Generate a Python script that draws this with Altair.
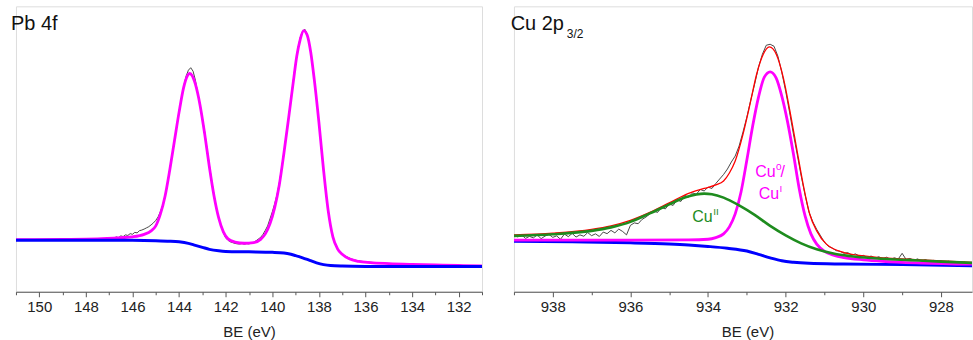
import altair as alt
import pandas as pd

FONT = "Liberation Sans"

# ---------------- Pb 4f panel (BE in eV, intensity in a.u.) ----------------
pb_measured = [
    (146.8, 53.5), (146.7, 55.0), (146.6, 54.2), (146.5, 56.0), (146.4, 55.3), (146.3, 57.0),
    (146.2, 56.4), (146.1, 58.2), (146.0, 57.6), (145.9, 59.5), (145.8, 59.0), (145.7, 61.2),
    (145.6, 61.8), (145.5, 62.8), (145.4, 64.0), (145.3, 65.2), (145.2, 67.0), (145.1, 69.0),
    (145.0, 71.5), (144.9, 75.0), (144.8, 80.5), (144.7, 87.0), (144.6, 96.0), (144.5, 108),
    (144.4, 123), (144.3, 137), (144.2, 151), (144.1, 166), (144.0, 181), (143.9, 194),
    (143.8, 206), (143.7, 216), (143.6, 222), (143.5, 224.5), (143.4, 221), (143.3, 212),
    (143.2, 199), (143.1, 188), (143.0, 174), (142.9, 160), (142.8, 143), (142.7, 127),
    (142.6, 111), (142.5, 97), (142.4, 84), (142.3, 74), (142.2, 66), (142.1, 59),
    (142.0, 54), (141.9, 51.5), (141.8, 50), (141.7, 49.2), (141.6, 48.4), (141.5, 48.0),
    (141.4, 47.8), (141.3, 48.3), (141.2, 47.6), (141.1, 48.2), (141.0, 47.9), (140.9, 49.0),
    (140.8, 49.5), (140.7, 51.0), (140.6, 52.8), (140.5, 54.5), (140.4, 57.5), (140.3, 61.5),
    (140.2, 66.0), (140.1, 73.0), (140.0, 80.0), (139.9, 88.0), (139.8, 97.0), (139.7, 109),
    (139.6, 124), (139.5, 140), (139.4, 157), (139.3, 175), (139.2, 193), (139.1, 212),
    (139.0, 229), (138.9, 244), (138.8, 255), (138.7, 261), (138.6, 263), (138.5, 258),
    (138.4, 247), (138.3, 232), (138.2, 214), (138.1, 192), (138.0, 170), (137.9, 146),
    (137.8, 122), (137.7, 100), (137.6, 81), (137.5, 66), (137.4, 55), (137.3, 48),
    (137.2, 43), (137.1, 40), (137.0, 37.5), (136.8, 35), (136.6, 32.8), (136.4, 31.5),
    (136.2, 30.6), (136.0, 30), (135.5, 29), (135.0, 28.4), (134.5, 27.8), (134.0, 27.3),
    (133.5, 27.0), (133.0, 26.8), (132.5, 26.5), (132.0, 26.3), (131.5, 26.1),
]

pb_fit = [
    (151.0, 52.2), (149.0, 52.5), (147.5, 53.0), (146.5, 54.2), (146.0, 55.0), (145.5, 57.5),
    (145.2, 61), (145.0, 66), (144.8, 78), (144.6, 96), (144.4, 122), (144.2, 151),
    (144.0, 180), (143.8, 205), (143.65, 216), (143.55, 218.7), (143.45, 217), (143.3, 208),
    (143.1, 187), (142.9, 158), (142.7, 125), (142.5, 96), (142.3, 74), (142.1, 60),
    (141.9, 53), (141.6, 49.8), (141.2, 48.6), (140.8, 49.3), (140.5, 52.5), (140.3, 58),
    (140.1, 68), (139.9, 84), (139.7, 107), (139.5, 139), (139.3, 174), (139.1, 210),
    (138.95, 236), (138.8, 253), (138.65, 261.7), (138.5, 257), (138.35, 240), (138.2, 213),
    (138.0, 170), (137.8, 122), (137.6, 81), (137.4, 55), (137.2, 43), (137.0, 37.5),
    (136.7, 33), (136.3, 30.5), (135.8, 29.2), (135.0, 28.2), (134.0, 27.4), (133.0, 26.8),
    (132.0, 26.3), (131.0, 26.0),
]

pb_background = [
    (151.0, 51.7), (146.0, 51.5), (145.0, 51.2), (144.5, 50.7), (144.0, 50.0), (143.6, 48.5),
    (143.3, 46.5), (143.0, 44.5), (142.7, 42.5), (142.3, 41.0), (142.0, 40.4), (141.0, 40.0),
    (140.0, 39.5), (139.5, 38.8), (139.2, 37.5), (139.0, 36.2), (138.7, 34.0), (138.4, 31.5),
    (138.1, 29.0), (137.8, 27.2), (137.5, 26.2), (137.0, 25.7), (136.0, 25.4), (134.0, 25.3),
    (131.0, 25.2),
]

# ---------------- Cu 2p3/2 panel ----------------
cu_measured = [
    (939.0, 56.5), (938.9, 55.0), (938.8, 56.8), (938.7, 53.5), (938.6, 55.5), (938.5, 54.0),
    (938.4, 56.9), (938.3, 53.2), (938.2, 55.8), (938.1, 57.5), (938.0, 54.5), (937.9, 56.0),
    (937.8, 52.6), (937.7, 57.8), (937.6, 55.2), (937.5, 58.5), (937.4, 54.8), (937.3, 57.0),
    (937.2, 55.6), (937.1, 59.3), (937.0, 56.2), (936.9, 58.0), (936.8, 55.4), (936.7, 59.8),
    (936.6, 58.2), (936.5, 61.5), (936.4, 59.0), (936.3, 62.8), (936.2, 60.4), (936.1, 57.0),
    (936.0, 66.5), (935.9, 69.0), (935.8, 68.2), (935.7, 72.5), (935.6, 74.8), (935.5, 78.0),
    (935.4, 80.8), (935.3, 79.5), (935.2, 84.5), (935.1, 83.0), (935.0, 88.0), (934.9, 86.5),
    (934.8, 92.0), (934.7, 90.5), (934.6, 96.5), (934.5, 94.8), (934.4, 99.0), (934.3, 97.8),
    (934.2, 102.5), (934.1, 101.0), (934.0, 104.8), (933.9, 103.5), (933.8, 108.5), (933.7, 113.0),
    (933.6, 117.5), (933.5, 123.0), (933.4, 130), (933.3, 136), (933.2, 146), (933.1, 160),
    (933.0, 175), (932.9, 192), (932.8, 208), (932.7, 225), (932.6, 238), (932.5, 247),
    (932.4, 248), (932.3, 246), (932.2, 236), (932.1, 220), (932.0, 201), (931.9, 180),
    (931.8, 158), (931.7, 137), (931.6, 116), (931.5, 97), (931.4, 80), (931.3, 70),
    (931.2, 62.5), (931.1, 56), (931.0, 49.5), (930.9, 45.5), (930.8, 43.8), (930.7, 41.2),
    (930.6, 40.5), (930.5, 38.6), (930.4, 39.2), (930.3, 36.8), (930.2, 37.9), (930.1, 35.6),
    (930.0, 36.5), (929.9, 34.2), (929.8, 35.8), (929.7, 33.6), (929.6, 35.1), (929.5, 33.0),
    (929.4, 34.6), (929.3, 32.4), (929.2, 34.0), (929.1, 32.8), (929.0, 38.5), (928.9, 32.5),
    (928.8, 33.4), (928.7, 31.6), (928.6, 32.9), (928.5, 30.8), (928.4, 32.2), (928.3, 30.4),
    (928.2, 31.5), (928.1, 29.8), (928.0, 31.0), (927.9, 29.2), (927.8, 30.6), (927.7, 28.5),
    (927.6, 30.2), (927.5, 27.4), (927.4, 29.8), (927.3, 28.2), (927.2, 29.5),
]

cu_envelope = [
    (939.0, 57.0), (938.0, 58.8), (937.0, 62.5), (936.5, 66), (936.0, 71.5), (935.5, 79.5),
    (935.0, 89), (934.5, 98.5), (934.1, 103.5), (933.8, 107), (933.6, 111), (933.45, 119),
    (933.3, 131), (933.1, 157.7), (932.92, 187.7), (932.75, 217.7), (932.58, 237.7),
    (932.42, 245.3), (932.24, 237.7), (932.06, 214.3), (931.89, 181), (931.72, 144.3),
    (931.55, 107.7), (931.38, 77.7), (931.2, 61), (930.95, 47.7), (930.5, 39.3),
    (929.75, 35), (928.5, 32), (927.0, 29.0),
]

cu_metal = [
    (939.0, 51.8), (936.0, 51.8), (934.5, 52.0), (934.0, 52.6), (933.8, 54.3), (933.6, 58),
    (933.45, 65), (933.3, 78), (933.15, 100), (933.0, 132), (932.85, 166), (932.7, 195),
    (932.55, 215), (932.4, 220.3), (932.25, 214.5), (932.1, 196), (931.95, 170), (931.8, 138),
    (931.65, 103), (931.5, 76), (931.35, 58), (931.2, 47.7), (931.0, 40.5), (930.75, 36.5),
    (930.5, 34.3), (930.0, 32), (929.5, 30.5), (928.5, 28.8), (927.0, 27.5),
]

cu_oxide = [
    (939.0, 56.0), (938.0, 57.6), (937.0, 61.0), (936.5, 64.5), (936.0, 70.0), (935.5, 78.5),
    (935.0, 87.5), (934.6, 94.5), (934.3, 97.5), (934.1, 98.3), (933.9, 97.7), (933.6, 94.3),
    (933.2, 86.5), (932.8, 77), (932.4, 66), (932.0, 56.5), (931.6, 48.5), (931.2, 42.5),
    (930.8, 38.5), (930.2, 35.0), (929.5, 33), (928.8, 31.7), (928.0, 30.2), (927.0, 28.6),
]

cu_background = [
    (939.0, 50.5), (937.5, 50.0), (936.0, 49.0), (935.0, 47.8), (934.5, 46.8), (934.0, 45.4),
    (933.5, 43.6), (933.0, 40.8), (932.7, 37.5), (932.4, 34), (932.1, 31), (931.8, 29.5),
    (931.4, 28.5), (930.5, 27.8), (929.0, 27.2), (927.0, 26.0),
]

# annotation labels (anchor = end of "Cu")
ann_text = ["Cu", "Cu", "Cu"]
ann_sup = ["0", "I", "II"]
ann_be = [932.26, 932.17, 933.88]
ann_v = [115, 93.3, 70.3]
ann_color = ["#FF00FF", "#FF00FF", "#1E8C1E"]

pb_title = "Pb 4f"
cu_title_main = "Cu 2p"
cu_title_sub = "3/2"

pb_domain = [151, 131]
cu_domain = [939, 927.2]
pb_ticks = list(range(131, 152))
cu_ticks = list(range(928, 940))
y_domain = [0, 286]

W_PB, W_CU, H = 467, 459, 286


def df(pairs):
    return pd.DataFrame(pairs, columns=["be", "v"])


def xenc(domain, ticks, title_x):
    axis_kwargs = dict(
        values=ticks,
        title="BE (eV)",
        labelExpr="datum.value % 2 === 0 ? datum.label : ''",
        labelOverlap=False,
        labelFlush=False,
        labelFontSize=15,
        labelColor="#222222",
        labelFont=FONT,
        labelPadding=3,
        tickSize={"condition": {"test": "datum.value % 2 === 0", "value": 5}, "value": 3},
        tickColor="#555555",
        tickWidth=1,
        domainColor="#555555",
        domainWidth=1,
        grid=False,
        titleFontSize=15,
        titleFontWeight="normal",
        titleColor="#222222",
        titleFont=FONT,
        titlePadding=10,
        titleX=title_x,
    )
    return alt.X("be:Q", scale=alt.Scale(domain=domain, nice=False, zero=False),
                 axis=alt.Axis(**axis_kwargs))


yenc = alt.Y("v:Q", scale=alt.Scale(domain=y_domain, nice=False, zero=False), axis=None)


def line(pairs, color, width, domain, ticks, title_x, interp="monotone"):
    return alt.Chart(df(pairs)).mark_line(
        color=color, strokeWidth=width, interpolate=interp, clip=True
    ).encode(x=xenc(domain, ticks, title_x), y=yenc, order="be:Q")


# ---------------- left panel ----------------
pb_t = alt.Chart(pd.DataFrame({"t": [pb_title]})).mark_text(
    align="left", baseline="alphabetic", fontSize=20, font=FONT, color="#111111"
).encode(x=alt.value(-5), y=alt.value(24), text="t:N")

left = alt.layer(
    line(pb_measured, "#333333", 0.9, pb_domain, pb_ticks, W_PB / 2, "linear"),
    line(pb_fit, "#FF00FF", 2.8, pb_domain, pb_ticks, W_PB / 2),
    line(pb_background, "#0000FF", 3.0, pb_domain, pb_ticks, W_PB / 2),
    pb_t,
).properties(width=W_PB, height=H)

# ---------------- right panel ----------------
ann_df = pd.DataFrame({"be": ann_be, "v": ann_v, "t": ann_text, "s": ann_sup, "c": ann_color})
ann_main = alt.Chart(ann_df).mark_text(
    align="right", baseline="alphabetic", fontSize=16, font=FONT
).encode(x=xenc(cu_domain, cu_ticks, 234), y=yenc, text="t:N", color=alt.Color("c:N", scale=None))
ann_super = alt.Chart(ann_df).mark_text(
    align="left", baseline="alphabetic", fontSize=10, font=FONT, dx=0.5, dy=-7
).encode(x=xenc(cu_domain, cu_ticks, 234), y=yenc, text="s:N", color=alt.Color("c:N", scale=None))
slash = alt.Chart(ann_df.iloc[[0]]).mark_text(
    align="left", baseline="alphabetic", fontSize=16, font=FONT, dx=5, text="/"
).encode(x=xenc(cu_domain, cu_ticks, 234), y=yenc, color=alt.Color("c:N", scale=None))

cu_t = alt.Chart(pd.DataFrame({"t": [cu_title_main]})).mark_text(
    align="left", baseline="alphabetic", fontSize=20, font=FONT, color="#111111"
).encode(x=alt.value(-3.3), y=alt.value(24), text="t:N")
cu_s = alt.Chart(pd.DataFrame({"t": [cu_title_sub]})).mark_text(
    align="left", baseline="alphabetic", fontSize=12, font=FONT, color="#111111"
).encode(x=alt.value(53), y=alt.value(31.5), text="t:N")

right = alt.layer(
    line(cu_measured, "#333333", 0.9, cu_domain, cu_ticks, 234, "linear"),
    line(cu_envelope, "#FF0000", 1.3, cu_domain, cu_ticks, 234),
    line(cu_background, "#0000FF", 3.0, cu_domain, cu_ticks, 234),
    line(cu_metal, "#FF00FF", 2.8, cu_domain, cu_ticks, 234),
    line(cu_oxide, "#1E8C1E", 2.6, cu_domain, cu_ticks, 234),
    ann_main, ann_super, slash, cu_t, cu_s,
).properties(width=W_CU, height=H)

chart = alt.hconcat(left, right, spacing=32, bounds="flush").properties(
    padding={"left": 10, "top": 5, "right": 0, "bottom": 0}
).configure_view(stroke=None).configure(font=FONT)

chart.save("out.html", embed_options={"renderer": "svg", "actions": False})
